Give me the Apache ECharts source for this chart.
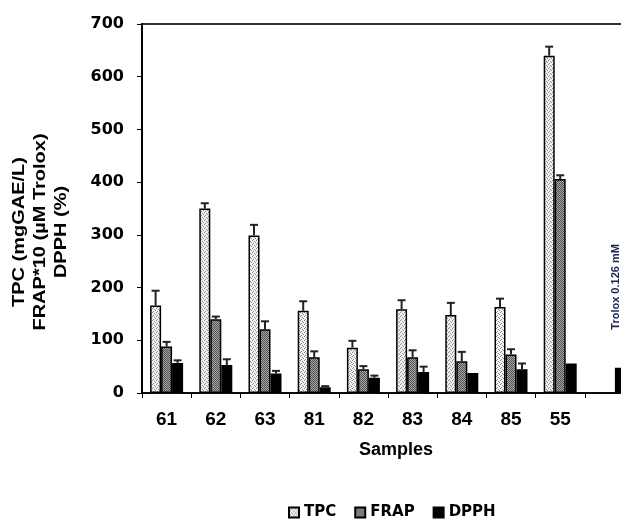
<!DOCTYPE html>
<html>
<head>
<meta charset="utf-8">
<script src="https://cdn.jsdelivr.net/npm/echarts@6/dist/echarts.min.js"></script>
<style>
  html, body { margin: 0; padding: 0; background: #fff; }
  #chart { width: 621px; height: 527px; }
</style>
</head>
<body>
<div id="chart"></div>
<script>
// 样品编号（最后一个是 Trolox 对照，不标注）
const categories = ['61', '62', '63', '81', '82', '83', '84', '85', '55', '']
// 各指标均值
const tpc = [166, 350, 299, 156, 86, 159, 148, 163, 640, null]
const frap = [88, 140, 121, 68, 45, 68, 60, 73, 406, null]
const dpph = [57, 53, 37, 11, 29, 40, 38, 45, 56, 48]
// 误差（只画上半部分）
const tpcErr = [28, 10, 20, 18, 13, 17, 23, 16, 17, 0]
const frapErr = [9, 5, 15, 11, 6, 13, 18, 10, 7, 0]
const dpphErr = [5, 11, 5, 2, 4, 10, 0, 11, 0, 0]
const seriesNames = ['TPC', 'FRAP', 'DPPH']
const yTicks = [0, 100, 200, 300, 400, 500, 600, 700]

const BAR_W = 11

//生成填充图案
function makePattern(bg, dots, fg) {
    const c = document.createElement('canvas')
    c.width = 4
    c.height = 4
    const ctx = c.getContext('2d')
    ctx.fillStyle = bg
    ctx.fillRect(0, 0, 4, 4)
    ctx.fillStyle = fg
    dots.forEach(([x, y]) => ctx.fillRect(x, y, 1, 1))
    return { image: c, repeat: 'repeat' }
}
const tpcFill = makePattern('#f2f2f2', [[0, 0], [2, 1], [1, 3], [3, 2]], '#8c8c8c')
const frapFill = makePattern('#a8a8a8', [[0, 0], [2, 0], [1, 1], [3, 1], [0, 2], [2, 2], [1, 3], [3, 3]], '#505050')

//误差线数据: [类目索引, 均值, 误差, 系列索引]
const errData = []
;[[tpc, tpcErr], [frap, frapErr], [dpph, dpphErr]].forEach(([vals, errs], s) => {
    vals.forEach((v, i) => {
        if (v != null && errs[i] > 0) errData.push([i, v, errs[i], s])
    })
})

function renderErr(params, api) {
    const idx = api.value(0)
    const v = api.value(1)
    const e = api.value(2)
    const s = api.value(3)
    const base = api.coord([idx, v])
    const top = api.coord([idx, v + e])
    const x = base[0] + (s - 1) * BAR_W
    const style = { stroke: '#222', lineWidth: 2 }
    return {
        type: 'group',
        children: [
            { type: 'line', shape: { x1: x, y1: base[1], x2: x, y2: top[1] }, style },
            { type: 'line', shape: { x1: x - 4, y1: top[1], x2: x + 4, y2: top[1] }, style }
        ]
    }
}

const barBorder = { borderColor: '#000', borderWidth: 1.5 }

const dpphData = dpph.map((v, i) => {
    if (i !== dpph.length - 1) return v
    // Trolox 对照标注
    return {
        value: v,
        label: {
            show: true,
            position: 'top',
            rotate: 90,
            distance: 38,
            offset: [0, -4],
            align: 'left',
            verticalAlign: 'middle',
            formatter: 'Trolox 0.126 mM',
            fontFamily: 'Liberation Sans',
            fontWeight: 'bold',
            fontSize: 11,
            color: '#1a2350'
        }
    }
})

const myChart = echarts.init(document.getElementById('chart'))
const option = {
    animation: false,
    grid: {
        left: 142,
        width: 492,
        top: 24,
        bottom: 134,
        outerBoundsMode: 'none',
        show: true,
        borderColor: '#333',
        borderWidth: 2
    },
    legend: {
        bottom: 2,
        left: 283,
        icon: 'rect',
        itemWidth: 10,
        itemHeight: 10,
        itemGap: 18,
        data: seriesNames,
        textStyle: {
            fontFamily: 'DejaVu Sans',
            fontWeight: 'bold',
            fontSize: 15,
            color: '#000'
        }
    },
    xAxis: {
        type: 'category',
        data: categories,
        name: 'Samples',
        nameLocation: 'middle',
        nameGap: 48,
        nameTextStyle: {
            fontFamily: 'Liberation Sans',
            fontWeight: 'bold',
            fontSize: 18,
            color: '#000',
            padding: [0, 0, 0, 16]
        },
        axisLine: { lineStyle: { color: '#000', width: 1.5 } },
        axisTick: { show: true, length: 5, lineStyle: { color: '#000' } },
        axisLabel: {
            margin: 17,
            fontFamily: 'Liberation Sans',
            fontWeight: 'bold',
            fontSize: 19,
            color: '#000'
        }
    },
    yAxis: {
        type: 'value',
        min: yTicks[0],
        max: yTicks[yTicks.length - 1],
        interval: 100,
        axisLine: { show: true, lineStyle: { color: '#000', width: 2 } },
        axisTick: { show: true, length: 5, lineStyle: { color: '#000' } },
        splitLine: { show: false },
        axisLabel: {
            margin: 18,
            fontFamily: 'DejaVu Sans',
            fontWeight: 'bold',
            fontSize: 16,
            color: '#000'
        }
    },
    graphic: [{
        type: 'text',
        x: 41,
        y: 232,
        rotation: Math.PI / 2,
        scaleX: 1.25,
        style: {
            text: 'TPC (mgGAE/L)\nFRAP*10 (µM Trolox)\nDPPH (%)',
            font: 'bold 16px "Liberation Sans"',
            fill: '#000',
            align: 'center',
            verticalAlign: 'middle',
            lineHeight: 21
        }
    }],
    series: [
        { name: 'TPC', type: 'bar', data: tpc, barWidth: BAR_W, barGap: '0%', itemStyle: Object.assign({ color: tpcFill }, barBorder) },
        { name: 'FRAP', type: 'bar', data: frap, barWidth: BAR_W, barGap: '0%', itemStyle: Object.assign({ color: frapFill }, barBorder) },
        { name: 'DPPH', type: 'bar', data: dpphData, barWidth: BAR_W, barGap: '0%', itemStyle: Object.assign({ color: '#000' }, barBorder) },
        {
            type: 'custom',
            renderItem: renderErr,
            data: errData,
            encode: { x: 0, y: 1 },
            z: 3,
            silent: true
        }
    ]
}
myChart.setOption(option, true)
</script>
</body>
</html>
